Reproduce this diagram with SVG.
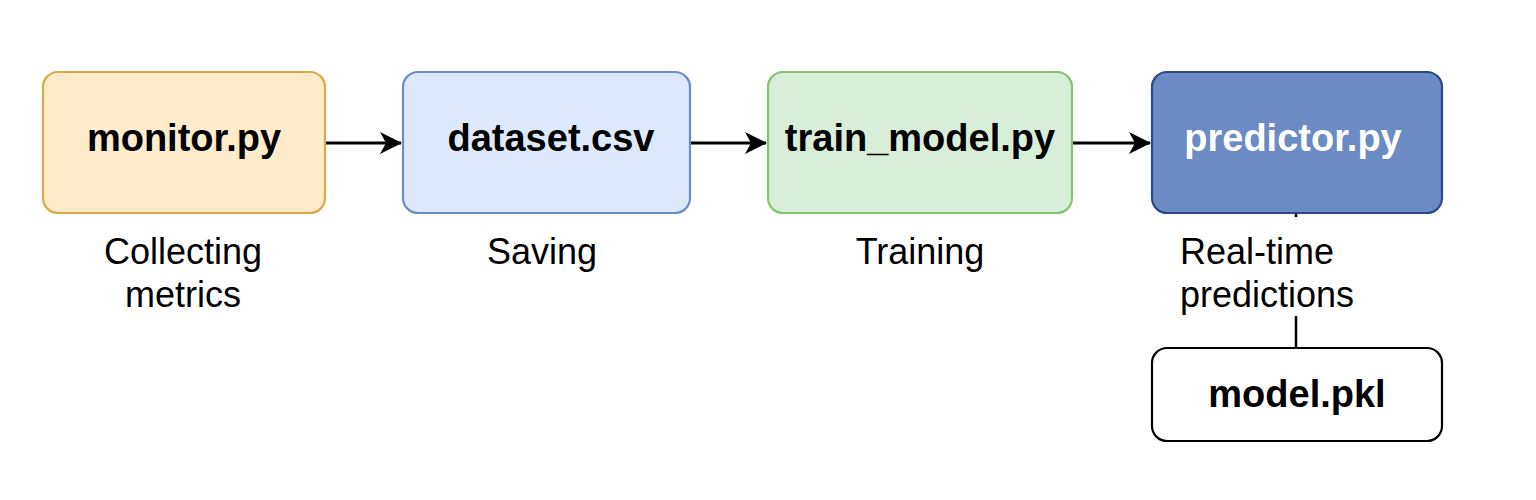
<svg xmlns="http://www.w3.org/2000/svg" width="1536" height="500" viewBox="0 0 1536 500">
<style>
.box{stroke-width:2.2}
.t{font-family:"Liberation Sans",Arial,sans-serif;font-size:38px;font-weight:bold;text-anchor:middle;fill:#000}
.l{font-family:"Liberation Sans",Arial,sans-serif;font-size:36px;fill:#000}
.c{stroke:#000;stroke-width:3.2;fill:none}
</style>
<defs>
<marker id="ah" markerWidth="22" markerHeight="22" refX="21" refY="11" orient="auto" markerUnits="userSpaceOnUse">
<path d="M0,0 L22,11 L0,22 L6,11 z" fill="#000"/>
</marker>
</defs>
<rect width="1536" height="500" fill="#fff"/>
<g id="connectors">
<line class="c" x1="326" y1="143" x2="401" y2="143" marker-end="url(#ah)"/>
<line class="c" x1="691" y1="143" x2="766" y2="143" marker-end="url(#ah)"/>
<line class="c" x1="1073" y1="143" x2="1150" y2="143" marker-end="url(#ah)"/>
<path d="M1296 214 V217 M1296 316 V348" stroke="#000" stroke-width="2.5" fill="none"/>
</g>
<g id="monitor">
<rect class="box" x="43" y="72" width="282" height="141" rx="15" fill="#fdebca" stroke="#d9a94a"/>
<text class="t" x="184" y="151">monitor.py</text>
<text class="l" x="183" y="264" text-anchor="middle">Collecting</text>
<text class="l" x="183" y="307" text-anchor="middle">metrics</text>
</g>
<g id="dataset">
<rect class="box" x="403" y="72" width="287" height="141" rx="15" fill="#dde9fa" stroke="#6a8dc9"/>
<text class="t" x="551" y="151">dataset.csv</text>
<text class="l" x="542" y="264" text-anchor="middle">Saving</text>
</g>
<g id="train">
<rect class="box" x="768" y="72" width="304" height="141" rx="15" fill="#d9eed8" stroke="#84c276"/>
<text class="t" x="920" y="151">train_model.py</text>
<text class="l" x="920" y="264" text-anchor="middle">Training</text>
</g>
<g id="predictor">
<rect class="box" x="1152" y="72" width="290" height="141" rx="15" fill="#6a8bc4" stroke="#2d4a8a"/>
<text class="t" x="1293" y="151" style="fill:#fff">predictor.py</text>
<text class="l" x="1180" y="264">Real-time</text>
<text class="l" x="1180" y="307">predictions</text>
</g>
<g id="model">
<rect class="box" x="1152" y="348" width="290" height="93" rx="15" fill="#fff" stroke="#000"/>
<text class="t" x="1297" y="407">model.pkl</text>
</g>
</svg>
